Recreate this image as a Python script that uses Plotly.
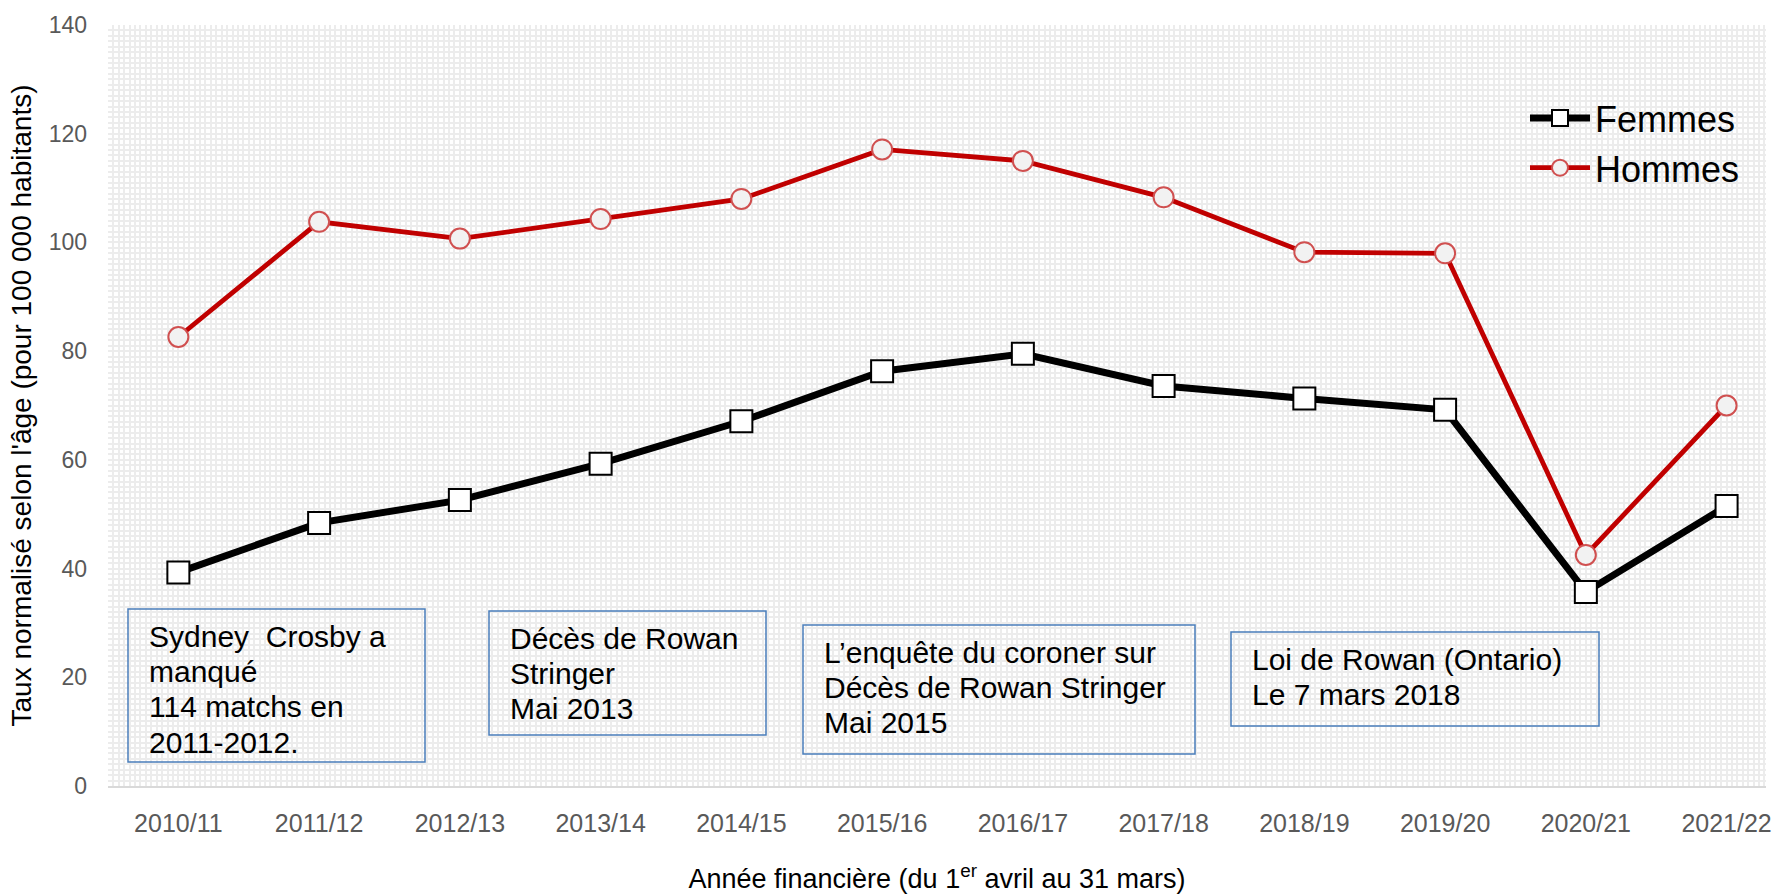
import plotly.graph_objects as go

categories = ["2010/11", "2011/12", "2012/13", "2013/14", "2014/15", "2015/16",
              "2016/17", "2017/18", "2018/19", "2019/20", "2020/21", "2021/22"]
femmes = [39.3, 48.4, 52.6, 59.3, 67.1, 76.3, 79.5, 73.6, 71.3, 69.2, 35.7, 51.5]
hommes = [82.6, 103.8, 100.7, 104.3, 108.0, 117.1, 115.0, 108.3, 98.2, 98.0, 42.5, 70.0]

box_lines = [
    ["Sydney  Crosby a", "manqué", "114 matchs en", "2011-2012."],
    ["Décès de Rowan", "Stringer", "Mai 2013"],
    ["L’enquête du coroner sur", "Décès de Rowan Stringer", "Mai 2015"],
    ["Loi de Rowan (Ontario)", "Le 7 mars 2018"],
]

W, H = 1792, 894
ML, MR, MT, MB = 108, 26, 25, 108
PW, PH = W - ML - MR, H - MT - MB

def px_x(px):
    return (px - ML) / PW

def px_y(py):
    return (H - MB - py) / PH

# box geometry in pixels: left, top, right, bottom
boxes = [(128, 609, 425, 762), (489, 611, 766, 735), (803, 625, 1195, 754), (1231, 632, 1599, 726)]
LINE_H = 35.4

FONT = "Liberation Sans, Arial, sans-serif"
xs = list(range(len(categories)))

fig = go.Figure()
fig.add_trace(go.Scatter(
    x=xs, y=femmes, name="Femmes", mode="lines+markers",
    line=dict(color="black", width=7),
    marker=dict(symbol="square", size=22, color="white", line=dict(color="black", width=2)),
))
fig.add_trace(go.Scatter(
    x=xs, y=hommes, name="Hommes", mode="lines+markers",
    line=dict(color="#c00000", width=4.8),
    marker=dict(symbol="circle", size=20, color="#f2f2f2", line=dict(color="#d05050", width=2)),
))

shapes = []
annotations = []
for (l, t, r, b), lines in zip(boxes, box_lines):
    shapes.append(dict(type="rect", xref="paper", yref="paper",
                       x0=px_x(l), x1=px_x(r), y0=px_y(b), y1=px_y(t),
                       line=dict(color="#4a7ebb", width=1.5), fillcolor="rgba(0,0,0,0)", layer="above"))
    for i, txt in enumerate(lines):
        annotations.append(dict(xref="paper", yref="paper", x=px_x(l + 19), y=px_y(t + 27 + i * LINE_H),
                                xanchor="left", yanchor="middle", align="left", showarrow=False,
                                text=txt, font=dict(family=FONT, size=30, color="black")))

grid_col = "#ececec"
fig.update_layout(
    width=W, height=H,
    margin=dict(l=ML, r=MR, t=MT, b=MB, autoexpand=False),
    plot_bgcolor="white", paper_bgcolor="white",
    font=dict(family=FONT, color="#595959"),
    shapes=shapes,
    annotations=annotations,
    showlegend=True,
    legend=dict(x=px_x(1525), y=px_y(143), xanchor="left", yanchor="middle",
                font=dict(family=FONT, size=36, color="black"), bgcolor="rgba(0,0,0,0)",
                itemwidth=60),
    xaxis=dict(
        range=[-0.5, 11.28], tickmode="array", tickvals=xs, ticktext=categories,
        tickfont=dict(size=25, color="#595959"), ticks="", ticklabelstandoff=14,
        showline=True, linecolor="#d9d9d9", linewidth=2, automargin=False,
        showgrid=True, gridcolor=grid_col, gridwidth=1.7,
        minor=dict(dtick=1 / 26, tick0=-0.5, showgrid=True, gridcolor=grid_col, gridwidth=1.7),
        zeroline=False,
        title=dict(text="Année financière (du 1<sup>er</sup> avril au 31 mars)",
                   font=dict(size=27, color="black"), standoff=37),
    ),
    yaxis=dict(
        range=[0, 140], dtick=20, tickfont=dict(size=23, color="#595959"),
        ticks="", ticklabelstandoff=20, automargin=False,
        showline=False, zeroline=False,
        showgrid=True, gridcolor=grid_col, gridwidth=1.7,
        minor=dict(dtick=1, showgrid=True, gridcolor=grid_col, gridwidth=1.7),
        title=dict(text="Taux normalisé selon l'âge (pour 100 000 habitants)",
                   font=dict(size=28, color="black"), standoff=8),
    ),
)

fig.write_html("out.html", config={"displayModeBar": False},
               post_script="document.body.style.margin='0';document.body.style.overflow='hidden';")
